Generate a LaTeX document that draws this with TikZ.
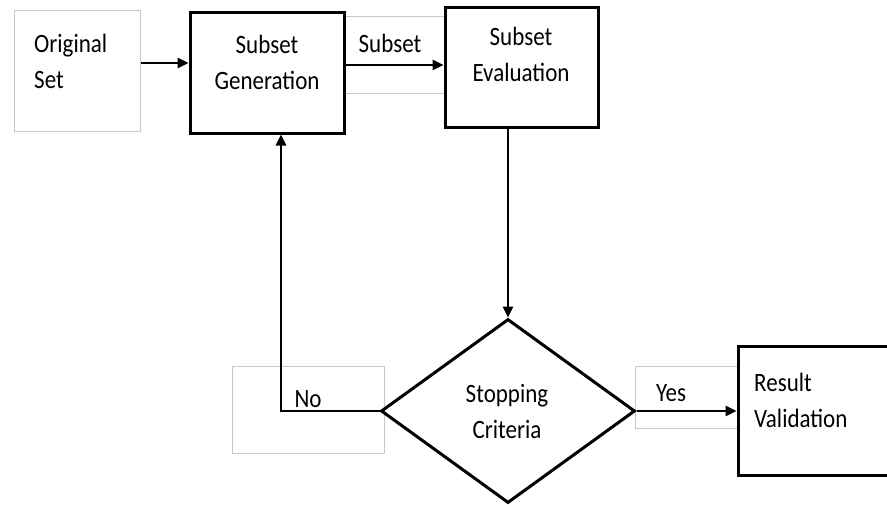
\documentclass[tikz,border=0pt]{standalone}
\usepackage{fontspec}
\usepackage{graphicx}
\setmainfont{Carlito}
\usetikzlibrary{shapes.geometric,arrows.meta}
% tall label text: lines of a stack, stretched a little in height
\newcommand\tallstack[2]{\scalebox{1}[1.15]{\begin{tabular}{@{}#1@{}}#2\end{tabular}}}
\tikzset{
  every node/.style={font=\fontsize{23}{31.3}\selectfont},
  stagebox/.style={draw=black, line width=3pt, rectangle, inner sep=0pt, fill=white},
  tagbox/.style={draw=black!22, line width=1pt, rectangle, inner sep=0pt},
  txt/.style={inner sep=0pt},
  arr/.style={line width=2.5pt, -{Triangle[length=11pt,width=10pt]}},
}
\begin{document}
\begin{tikzpicture}[x=1pt,y=-1pt]
\useasboundingbox (0,0) rectangle (887,504);

% light label frames
\node[tagbox, minimum width=126pt, minimum height=121pt] (orig) at (77,70.5) {};
\node[tagbox, minimum width=101pt, minimum height=77pt] (subtag) at (394.5,54.5) {};
\node[tagbox, minimum width=152pt, minimum height=87pt] (notag) at (308,409.5) {};
\node[tagbox, minimum width=102pt, minimum height=62pt] (yestag) at (686,397) {};

% process boxes
\node[stagebox, minimum width=154pt, minimum height=121pt] (gen) at (267,72.5) {};
\node[stagebox, minimum width=153pt, minimum height=120pt] (eval) at (521.5,67) {};
\node[stagebox, minimum width=152pt, minimum height=129pt] (res) at (814,410.5) {};
\node[diamond, draw=black, line width=3pt, inner sep=0pt, fill=white,
      minimum width=254pt, minimum height=184pt] (dia) at (508,411) {};

% texts
\node[txt, anchor=west] (origtxt) at (34,63) {\tallstack{l}{Original\\Set}};
\node[txt] (gentxt) at (267,64) {\tallstack{c}{Subset\\Generation}};
\node[txt] (subtxt) at (390,45) {\tallstack{c}{Subset}};
\node[txt] (evaltxt) at (521,56) {\tallstack{c}{Subset\\Evaluation}};
\node[txt] (diatxt) at (507,413) {\tallstack{c}{Stopping\\Criteria}};
\node[txt] (notxt) at (308,400) {\tallstack{c}{No}};
\node[txt] (yestxt) at (671,394) {\tallstack{c}{Yes}};
\node[txt, anchor=west] (restxt) at (754,402) {\tallstack{l}{Result\\Validation}};

% connectors
\draw[arr] ([yshift=7.5pt]orig.east) -- ([yshift=9.5pt]gen.west);
\draw[arr] ([yshift=7.5pt]gen.east) -- ([yshift=2pt]eval.west);
\draw[arr] ([xshift=-13.5pt]eval.south) -- (dia.north);
\draw[arr] (dia.west) -| ([xshift=14pt]gen.south);
\draw[arr] (dia.east) -- (dia.east -| res.west);
\end{tikzpicture}
\end{document}
